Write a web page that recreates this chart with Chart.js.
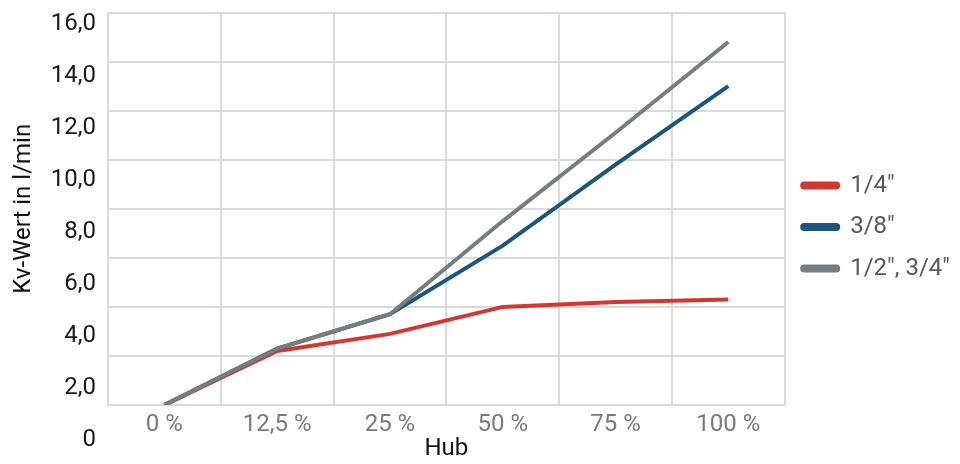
<!DOCTYPE html>
<html>
<head>
<meta charset="utf-8">
<script src="https://cdn.jsdelivr.net/npm/chart.js@4/dist/chart.umd.min.js"></script>
<style>
  html, body { margin: 0; padding: 0; background: #fff; }
  #wrap { width: 960px; height: 464px; }
</style>
</head>
<body>
<div id="wrap"><canvas id="myChart" width="960" height="464"></canvas></div>
<script>
// categories (Hub)
var hubLabels = ["0 %", "12,5 %", "25 %", "50 %", "75 %", "100 %"];
// series values, Kv in l/min
var kv14 = [0, 2.2, 2.9, 4.0, 4.2, 4.3];
var kv38 = [0, 2.3, 3.7, 6.5, 9.8, 13.0];
var kv12_34 = [0, 2.3, 3.7, 7.5, 11.1, 14.8];
var seriesNames = ['1/4"', '3/8"', '1/2", 3/4"'];
// y tick labels, value 0..16 step 2
var yTickLabels = ["0", "2,0", "4,0", "6,0", "8,0", "10,0", "12,0", "14,0", "16,0"];

var gridColor = "#d9dadf";

Chart.defaults.font.family = "Roboto";

// legend sits a bit higher than chart.js would center it
var legendShift = {
    id: "legendShift",
    afterLayout: function (chart) {
        chart.legend.top -= 5;
        chart.legend.bottom -= 5;
    }
};

var ctx = document.getElementById("myChart").getContext("2d");
var myChart = new Chart(ctx, {
    type: "line",
    data: {
        labels: hubLabels,
        datasets: [
            {
                label: seriesNames[0],
                data: kv14,
                borderColor: "#d2382d",
                backgroundColor: "#d2382d",
                borderWidth: 4,
                pointRadius: 0,
                order: 2
            },
            {
                label: seriesNames[1],
                data: kv38,
                borderColor: "#1a567e",
                backgroundColor: "#1a567e",
                borderWidth: 4,
                pointRadius: 0,
                order: 1
            },
            {
                label: seriesNames[2],
                data: kv12_34,
                borderColor: "#787c7f",
                backgroundColor: "#787c7f",
                borderWidth: 4,
                pointRadius: 0,
                order: 0
            }
        ]
    },
    plugins: [legendShift],
    options: {
        responsive: false,
        animation: false,
        layout: { padding: { top: 0, right: 0, bottom: 0, left: 0 } },
        plugins: {
            tooltip: { enabled: false },
            legend: {
                position: "right",
                labels: {
                    font: { size: 24 },
                    color: "#595959",
                    boxWidth: 36,
                    boxHeight: 4,
                    padding: 17.5,
                    useBorderRadius: true,
                    borderRadius: 2,
                    sort: function (a, b) { return a.datasetIndex - b.datasetIndex; }
                }
            }
        },
        scales: {
            x: {
                offset: true,
                grid: { color: gridColor, lineWidth: 2, offset: true, drawTicks: false },
                border: { color: gridColor, width: 2 },
                ticks: { color: "#7a7a7a", font: { size: 24, lineHeight: 1 }, padding: 8 },
                title: { display: true, text: "Hub", color: "#111", font: { size: 24, lineHeight: 1 }, padding: { top: -8, bottom: 2 } }
            },
            y: {
                min: 0,
                max: 16,
                grid: { color: gridColor, lineWidth: 2, drawTicks: false },
                border: { color: gridColor, width: 2 },
                ticks: {
                    stepSize: 2,
                    autoSkip: false,
                    color: "#1a1a1a",
                    padding: 12,
                    labelOffset: 11,
                    // labels in the reference drift downwards, mimic it via line height
                    font: function (c) {
                        var v = c.tick ? c.tick.value : 0;
                        return { size: 24, lineHeight: Math.max(0.1, 47 - 2.9 * v) + "px" };
                    },
                    callback: function (value, index) {
                        return ["", yTickLabels[index]];
                    }
                },
                title: { display: true, text: "Kv-Wert in l/min", color: "#111", font: { size: 24 }, padding: { top: 10, bottom: 0 } }
            }
        }
    }
});
</script>
</body>
</html>
